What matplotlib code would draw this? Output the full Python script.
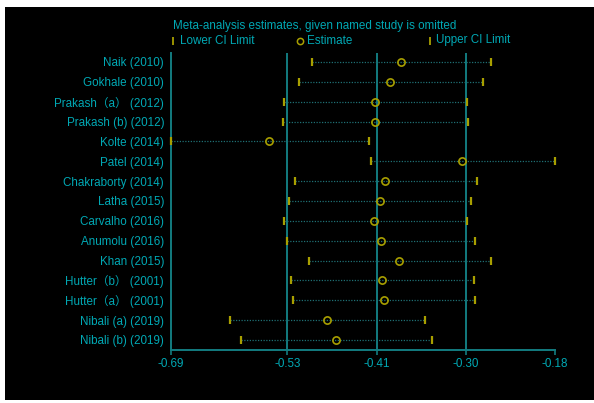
import matplotlib
matplotlib.use("Agg")
import matplotlib.pyplot as plt
from matplotlib.patches import Rectangle
from matplotlib.lines import Line2D

plt.rcParams['font.family'] = ['Liberation Sans', 'Noto Sans CJK SC', 'DejaVu Sans']

# studies omitted one at a time (top to bottom)
studies = [
    "Naik (2010)", "Gokhale (2010)", "Prakash\uff08a\uff09 (2012)", "Prakash (b) (2012)",
    "Kolte (2014)", "Patel (2014)", "Chakraborty (2014)", "Latha (2015)",
    "Carvalho (2016)", "Anumolu (2016)", "Khan (2015)", "Hutter\uff08b\uff09 (2001)",
    "Hutter\uff08a\uff09 (2001)", "Nibali (a) (2019)", "Nibali (b) (2019)",
]
lower = [-0.503, -0.520, -0.540, -0.541, -0.690, -0.424, -0.525, -0.533,
         -0.540, -0.535, -0.506, -0.530, -0.528, -0.611, -0.597]
estimate = [-0.385, -0.399, -0.419, -0.419, -0.559, -0.303, -0.405, -0.412,
            -0.420, -0.411, -0.387, -0.410, -0.407, -0.482, -0.470]
upper = [-0.265, -0.276, -0.297, -0.295, -0.427, -0.180, -0.284, -0.291,
         -0.297, -0.286, -0.265, -0.288, -0.286, -0.352, -0.343]

# x ticks: min lower, overall lower CI, overall estimate, overall upper CI, max upper
tick_pos = [-0.690, -0.535, -0.416, -0.298, -0.180]
tick_lab = ["-0.69", "-0.53", "-0.41", "-0.30", "-0.18"]
ref_lines = [-0.535, -0.416, -0.298]

TXT = '#00a8b4'
LINE = '#137c80'
DOT = '#1f6f73'
MARK = '#a89f00'
FS = 8.4

W, H = 594, 403
fig = plt.figure(figsize=(W / 100, H / 100), dpi=100, facecolor='white')

# black panel behind everything
bg = fig.add_axes([5 / W, 3 / H, 1 - 5 / W, 393 / H], zorder=-10)
bg.set_facecolor('black')
bg.set_xticks([])
bg.set_yticks([])
for s in bg.spines.values():
    s.set_visible(False)

ax = fig.add_axes([170.7 / W, 53 / H, (555 - 170.7) / W, (350 - 53) / H])
ax.patch.set_alpha(0)

rows = list(range(1, len(studies) + 1))
for y, lo, est, up in zip(rows, lower, estimate, upper):
    ax.plot([lo, up], [y, y], linestyle=(0, (1, 1.2)), color=DOT, lw=0.9, zorder=2)
    ax.plot([lo, up], [y, y], linestyle='none', marker='|', markersize=6,
            mew=1.6, color=MARK, zorder=4, clip_on=False)
    ax.plot(est, y, linestyle='none', marker='o', markersize=5.2, mfc='none',
            mec=MARK, mew=1.2, zorder=5)

for x in ref_lines:
    ax.axvline(x, color=LINE, lw=1.4, zorder=1)

ax.set_xlim(-0.69, -0.18)
ax.set_ylim(15.504, 0.547)
ax.set_yticks(rows)
ax.set_yticklabels(studies, color=TXT, fontsize=FS)
ax.tick_params(axis='y', length=0, pad=4.8)
ax.set_xticks(tick_pos)
ax.set_xticklabels(tick_lab, color=TXT, fontsize=FS)
ax.tick_params(axis='x', direction='out', length=3.5, width=1.2, color=LINE, pad=2.5)

for side in ['top', 'right']:
    ax.spines[side].set_visible(False)
for side in ['left', 'bottom']:
    ax.spines[side].set_color(LINE)
    ax.spines[side].set_linewidth(1.4)

# title and legend row above the plot
fig.text(173.5 / W, 1 - 25.5 / H, "Meta-analysis estimates, given named study is omitted",
         color=TXT, fontsize=FS, va='center', ha='left')
legend_items = [
    ('|', 173.5, "Lower CI Limit", 179.5),
    ('o', 300.0, "Estimate", 307.0),
    ('|', 430.0, "Upper CI Limit", 435.5),
]
for mk, mx, label, tx in legend_items:
    fig.add_artist(Line2D([mx / W], [1 - 40.5 / H], linestyle='none', marker=mk,
                          markersize=5.5 if mk == '|' else 4.5,
                          mew=1.3 if mk == '|' else 1.1, mfc='none', mec=MARK,
                          color=MARK, transform=fig.transFigure))
    fig.text(tx / W, 1 - 40.5 / H, label, color=TXT, fontsize=FS, va='center', ha='left')

fig.savefig('out.png', dpi=100, facecolor='white')
